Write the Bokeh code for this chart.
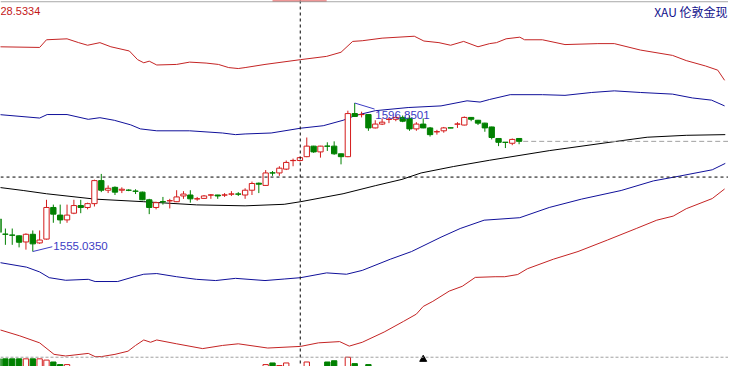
from bokeh.plotting import figure
from bokeh.models import Range1d, Span, ColumnDataSource, Label
from bokeh.embed import file_html
from bokeh.resources import INLINE

# ---- candle data (price) ----
opens = [1564.21, 1559.95, 1559.68, 1559.45, 1557.73, 1559.89, 1557.46, 1558.54, 1567.44, 1565.29,
         1563.94, 1565.83, 1567.98, 1567.44, 1568.52, 1575.00, 1572.30, 1573.11, 1572.30, 1572.32,
         1572.06, 1571.76, 1569.60, 1567.44, 1569.09, 1569.30, 1569.06, 1570.68, 1570.95, 1569.84,
         1570.00, 1570.92, 1570.95, 1570.92, 1571.19, 1571.25, 1570.95, 1572.30, 1574.27, 1573.65,
         1577.19, 1577.16, 1578.24, 1580.63, 1580.66, 1581.74, 1584.71, 1583.09, 1584.74, 1584.71,
         1582.55, 1581.74, 1593.88, 1593.58, 1593.61, 1589.84, 1590.92, 1592.24, 1592.27, 1592.80,
         1592.54, 1589.57, 1590.92, 1589.84, 1588.73, 1589.03, 1589.86, 1590.89, 1590.65, 1592.80,
         1592.00, 1591.19, 1590.11, 1586.87, 1585.82, 1585.52, 1586.87]
highs = [1565.02, 1561.51, 1561.51, 1559.60, 1560.16, 1560.97, 1560.97, 1569.60, 1568.25, 1568.25,
         1568.25, 1569.60, 1569.60, 1568.79, 1575.27, 1576.89, 1573.65, 1573.38, 1573.11, 1572.57,
         1572.57, 1571.90, 1569.87, 1569.06, 1570.41, 1569.87, 1572.30, 1572.03, 1572.30, 1570.41,
         1570.95, 1571.22, 1571.00, 1571.49, 1572.03, 1571.76, 1572.84, 1574.73, 1574.46, 1577.97,
         1577.70, 1579.05, 1580.66, 1581.20, 1581.74, 1587.14, 1584.80, 1584.80, 1585.79, 1586.06,
         1582.60, 1594.69, 1596.8501, 1594.42, 1593.70, 1592.00, 1592.54, 1592.80, 1593.34, 1593.34,
         1593.34, 1591.46, 1592.54, 1590.11, 1589.30, 1590.11, 1589.90, 1591.46, 1593.07, 1592.90,
         1592.10, 1591.30, 1590.20, 1586.95, 1585.85, 1586.87, 1586.95]
lows = [1559.62, 1556.92, 1556.92, 1556.20, 1555.57, 1555.035, 1557.19, 1558.40, 1563.13, 1562.86,
        1563.13, 1565.56, 1565.83, 1566.91, 1567.71, 1571.76, 1571.49, 1570.95, 1571.49, 1572.03,
        1571.22, 1569.50, 1565.56, 1566.91, 1568.25, 1567.17, 1568.95, 1569.87, 1568.79, 1569.33,
        1569.87, 1569.87, 1569.87, 1570.41, 1570.68, 1570.68, 1569.87, 1570.95, 1571.49, 1573.55,
        1576.35, 1576.35, 1577.97, 1579.05, 1580.39, 1581.60, 1582.82, 1581.47, 1583.36, 1582.28,
        1579.58, 1581.60, 1592.95, 1592.80, 1589.03, 1589.70, 1590.65, 1591.19, 1591.73, 1591.46,
        1589.03, 1589.03, 1589.75, 1587.41, 1587.95, 1588.49, 1589.78, 1589.84, 1590.55, 1591.73,
        1590.65, 1588.76, 1586.60, 1584.71, 1584.17, 1584.98, 1585.25]
closes = [1560.43, 1559.89, 1559.62, 1557.65, 1559.89, 1557.19, 1558.27, 1567.44, 1565.56, 1563.94,
          1565.29, 1567.98, 1567.44, 1568.52, 1575.00, 1572.30, 1572.84, 1571.76, 1572.57, 1572.28,
          1572.00, 1569.60, 1567.44, 1568.79, 1569.03, 1569.36, 1570.41, 1571.22, 1569.87, 1569.90,
          1570.68, 1570.98, 1570.68, 1570.98, 1571.25, 1571.19, 1572.30, 1574.19, 1574.00, 1577.16,
          1577.13, 1578.51, 1580.12, 1580.69, 1581.47, 1584.71, 1583.09, 1584.71, 1584.68, 1582.55,
          1581.74, 1593.88, 1593.07, 1593.64, 1589.84, 1590.92, 1591.46, 1592.30, 1592.80, 1591.73,
          1589.57, 1590.92, 1589.84, 1587.95, 1588.79, 1589.84, 1589.82, 1590.95, 1592.80, 1592.27,
          1591.19, 1589.84, 1587.14, 1585.79, 1585.76, 1586.60, 1586.06]
volumes = [520, 520, 520, 520, 520, 520, 520, 494, 454, 400,
           400, 300, 300, 300, 300, 300, 300, 300, 300, 300,
           300, 300, 300, 300, 300, 300, 300, 300, 300, 300,
           300, 300, 300, 300, 300, 300, 300, 300, 300, 400,
           434, 380, 434, 300, 300, 454, 300, 300, 454, 480,
           300, 554, 420, 300, 400, 300, 300, 300, 300, 300,
           300, 300, 300, 300, 300, 300, 300, 300, 300, 300,
           300, 300, 300, 300, 300, 300, 300]

# ---- band lines (bar index, price) ----
red_up_idx = [0, 6.0, 7.0, 10.0, 11.7, 13.0, 14.8, 16.4, 19.1, 20.3, 21.2, 22.0, 23.1, 26.0, 27.9, 30.3,
              32.1, 33.6, 35.0, 36.0, 38.9, 44.1, 47.9, 50.0, 51.7, 53.1, 56.0, 60.7, 62.1, 64.3, 66.0,
              67.9, 70.0, 71.7, 72.7, 74.1, 76.1, 76.8, 79.4, 82.7, 87.5, 89.9, 93.7, 98.4, 100.4,
              103.2, 105.0, 106.0]
red_up_val = [1612.69, 1612.50, 1614.66, 1614.93, 1613.85, 1613.12, 1613.85, 1612.69, 1611.50, 1609.07,
              1608.18, 1608.64, 1607.56, 1607.72, 1608.37, 1608.10, 1607.72, 1606.83, 1606.56, 1606.83,
              1607.72, 1609.07, 1609.99, 1611.15, 1614.20, 1614.39, 1615.12, 1615.66, 1614.31, 1613.85,
              1613.12, 1614.20, 1612.69, 1613.58, 1613.85, 1614.93, 1615.39, 1614.66, 1614.66, 1613.31,
              1613.58, 1613.58, 1611.77, 1610.26, 1608.80, 1607.29, 1606.11, 1603.25]
blue_up_idx = [0, 6.0, 7.1, 10.0, 13.1, 14.8, 16.9, 19.3, 20.7, 23.1, 27.9, 32.7, 34.6, 36.0, 39.8, 44.1,
               47.4, 50.3, 52.1, 55.0, 59.8, 64.6, 68.4, 70.3, 71.7, 74.7, 79.4, 82.7, 86.6, 89.9, 93.7,
               98.4, 101.3, 104.1, 106.0]
blue_up_val = [1593.61, 1592.62, 1593.61, 1593.61, 1592.26, 1592.72, 1591.99, 1590.70, 1589.57, 1589.03,
               1589.03, 1588.41, 1587.95, 1588.14, 1588.41, 1589.76, 1590.46, 1591.99, 1593.34, 1594.69,
               1595.58, 1596.04, 1597.47, 1597.12, 1597.85, 1599.20, 1599.20, 1599.01, 1599.82, 1600.28,
               1599.82, 1599.36, 1598.28, 1597.66, 1596.04]
mid_idx = [0, 3.6, 7.0, 14.1, 21.2, 28.9, 36.0, 41.7, 44.1, 50.3, 55.0, 58.9, 61.7, 66.4, 71.7, 80.4,
           89.9, 94.7, 100.4, 106.1]
mid_val = [1573.11, 1572.22, 1571.30, 1569.79, 1569.06, 1568.17, 1567.90, 1568.33, 1569.06, 1571.30,
           1573.57, 1575.35, 1577.16, 1578.96, 1580.74, 1583.44, 1585.98, 1587.22, 1587.76, 1587.95]
blue_lo_idx = [0, 4.1, 6.0, 7.4, 9.8, 13.1, 14.1, 17.4, 19.8, 21.2, 23.1, 26.0, 28.9, 31.7, 34.6, 38.9,
               41.7, 44.1, 47.9, 50.8, 53.1, 57.2, 60.3, 64.6, 67.4, 70.9, 76.1, 80.4, 85.1, 90.9, 95.6,
               99.4, 104.2, 106.1]
blue_lo_val = [1551.98, 1550.63, 1549.29, 1547.67, 1546.94, 1547.21, 1546.59, 1546.59, 1547.94, 1548.64,
               1548.83, 1547.94, 1547.21, 1546.86, 1547.48, 1546.86, 1547.29, 1547.67, 1549.02, 1548.64,
               1549.72, 1552.87, 1555.03, 1559.08, 1561.51, 1563.86, 1564.56, 1567.44, 1569.79, 1572.22,
               1574.92, 1576.27, 1578.05, 1579.85]
red_lo_idx = [0, 3.1, 6.0, 8.1, 9.8, 13.1, 14.1, 15.0, 17.0, 18.9, 20.0, 21.2, 22.2, 23.1, 26.0, 29.8,
              32.7, 35.0, 39.3, 44.1, 46.7, 49.8, 51.2, 53.1, 56.3, 59.1, 61.0, 62.0, 63.4, 65.8, 67.7,
              69.6, 72.5, 73.9, 75.8, 77.2, 81.0, 84.6, 88.9, 93.1, 96.1, 98.5, 100.4, 104.2, 106.0]
red_lo_val = [1533.10, 1531.29, 1529.32, 1526.08, 1525.62, 1526.35, 1525.44, 1525.44, 1526.08, 1526.97,
              1528.59, 1530.13, 1529.48, 1530.13, 1529.05, 1527.70, 1528.59, 1529.05, 1527.86, 1528.32,
              1529.32, 1529.67, 1528.40, 1529.48, 1532.37, 1535.34, 1537.41, 1539.57, 1541.00, 1543.89,
              1545.24, 1547.75, 1547.94, 1547.94, 1548.56, 1550.18, 1552.87, 1555.03, 1558.27, 1561.51,
              1563.86, 1565.01, 1567.09, 1569.95, 1572.65]

# ---- texts / markers ----
symbol_title = "XAU 伦敦金现"
top_price_text = "28.5334"
cross_idx = 44.05
cross_price = 1576.00
vol_sep_price = 1525.27
arrow_idx = 62
arrow_price = 1524.68
top_mark_idx = [40.0, 47.9]

RED = "#d41c1c"
GREEN = "#008000"
BAND_RED = "#c42424"
BAND_BLUE = "#10109a"
LBL_BLUE = "#3c3cc4"

n = len(opens)
idx = list(range(n))
up = [c >= o for o, c in zip(opens, closes)]
col = [RED if u else GREEN for u in up]
fill = ["white" if u else GREEN for u in up]

X0, X1 = 2 / 7, 746 / 7
Y0, Y1 = 1522.66, 1625.72

p = figure(width=728, height=366, output_backend="svg", toolbar_location=None,
           x_range=Range1d(X0, X1), y_range=Range1d(Y0, Y1),
           x_axis_location=None, y_axis_location=None, min_border=0)
p.grid.visible = False
p.outline_line_color = None
p.background_fill_color = "white"
p.border_fill_color = "white"
p.extra_y_ranges = {"vol": Range1d(360, 8000)}

# bands
p.line(red_up_idx, red_up_val, line_color=BAND_RED, line_width=1)
p.line(blue_up_idx, blue_up_val, line_color=BAND_BLUE, line_width=1)
p.line(mid_idx, mid_val, line_color="black", line_width=1)
p.line(blue_lo_idx, blue_lo_val, line_color=BAND_BLUE, line_width=1)
p.line(red_lo_idx, red_lo_val, line_color=BAND_RED, line_width=1)

# crosshair & guide lines
p.add_layout(Span(location=cross_idx, dimension="height", line_color="black",
                  line_dash="3 3", line_width=1))
p.add_layout(Span(location=cross_price, dimension="width", line_color="black",
                  line_dash="3 3", line_width=1))
p.add_layout(Span(location=vol_sep_price, dimension="width", line_color="#a0a0a0",
                  line_dash="3 2", line_width=1))
p.add_layout(Span(location=Y1 - 0.35, dimension="width", line_color="#a8a8a8", line_width=1))
p.line(top_mark_idx, [Y1 - 0.05, Y1 - 0.05], line_color="#e03030", line_width=2)

# last price line
p.line([n - 0.4, X1], [closes[-1], closes[-1]], line_color="#a0a0a0", line_dash="5 3", line_width=1)

src = ColumnDataSource(dict(x=idx, o=opens, h=highs, l=lows, c=closes, v=volumes,
                            top=[max(o, c) for o, c in zip(opens, closes)],
                            bot=[min(o, c) for o, c in zip(opens, closes)],
                            col=col, fill=fill))

# volume bars
p.vbar(x="x", width=0.78, top="v", bottom=0, source=src, y_range_name="vol",
       fill_color="fill", line_color="col", line_width=1)

# candles
p.segment(x0="x", y0="h", x1="x", y1="l", source=src, line_color="col", line_width=1)
p.vbar(x="x", width=0.78, top="top", bottom="bot", source=src,
       fill_color="fill", line_color="col", line_width=1)

# max / min annotations
imax = highs.index(max(highs))
imin = lows.index(min(lows))
p.line([imax, imax + 2.9], [highs[imax], highs[imax] - 1.7], line_color=LBL_BLUE, line_width=1)
p.add_layout(Label(x=imax + 3.0, y=highs[imax] - 3.25, text=f"{highs[imax]:.4f}",
                   text_color=LBL_BLUE, text_font="Liberation Sans", text_font_size="11.5px",
                   text_baseline="middle", text_align="left"))
p.line([imin, imin + 2.85], [lows[imin], lows[imin] + 1.35], line_color=LBL_BLUE, line_width=1)
p.add_layout(Label(x=imin + 3.0, y=lows[imin] + 1.5, text=f"{lows[imin]:.4f}",
                   text_color=LBL_BLUE, text_font="Liberation Sans", text_font_size="11.5px",
                   text_baseline="middle", text_align="left"))

# marker
p.scatter([arrow_idx], [arrow_price], marker="triangle", size=7, color="black")

# header texts
p.add_layout(Label(x=0, y=356, x_units="screen", y_units="screen", text=top_price_text,
                   text_color="#c41818", text_font="Liberation Sans", text_font_size="11px",
                   text_baseline="middle", text_align="left"))
p.add_layout(Label(x=727, y=355, x_units="screen", y_units="screen", text=symbol_title,
                   text_color="#10108c", text_font="Noto Sans CJK SC", text_font_size="12px",
                   text_baseline="middle", text_align="right"))

open("out.html", "w").write(file_html(p, INLINE))
